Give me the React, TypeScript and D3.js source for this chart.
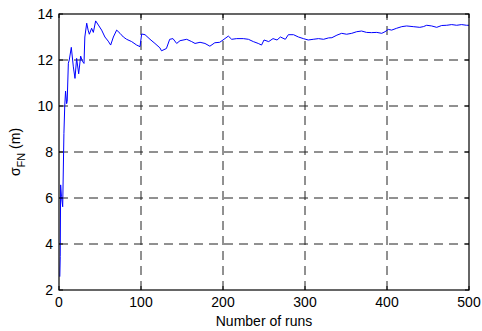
import React from "react";
import * as d3 from "d3";

const runs = [1, 1.5, 2, 3, 4.5, 6, 7, 8, 9.3, 10, 11.4, 12.5, 15, 17.5, 19.5, 21.5, 24, 26.4, 28.5, 30.5, 31.5, 33.8, 35.5, 37, 39.8, 41.9, 44.7, 48, 52, 56, 60, 63, 66.3, 70.3, 74.4, 78.5, 82.5, 88.6, 94.7, 98.8, 100.8, 104.9, 111, 117, 123, 125, 131, 135, 139, 143.5, 147.6, 155.7, 161.8, 165.9, 172, 178, 184, 190, 196, 200, 206.5, 210.6, 216.7, 224.8, 231, 237, 243, 247, 250, 255.7, 261, 265.9, 270, 276, 279.7, 286, 292, 298, 304, 310, 316.5, 322.6, 328.7, 332.8, 338.9, 344.7, 350.8, 357, 363, 369, 375, 381, 387.5, 393.6, 397.6, 401.6, 405.7, 411.8, 418, 424, 432, 440, 444.3, 448.4, 454.5, 460.6, 466.7, 472.8, 478.9, 485, 491, 497, 500];
const sigmaFN = [2.58, 3.45, 6.57, 6.06, 5.62, 8.8, 10.0, 10.65, 10.1, 10.2, 11.86, 12.0, 12.55, 11.7, 11.2, 12.07, 11.4, 12.17, 11.95, 11.85, 13.0, 13.6, 13.3, 13.12, 13.38, 13.2, 13.7, 13.52, 13.3, 13.0, 12.82, 12.65, 13.0, 13.3, 13.16, 13.0, 12.9, 12.8, 12.65, 12.58, 13.13, 13.1, 12.9, 12.72, 12.53, 12.4, 12.5, 12.9, 12.93, 12.72, 12.84, 12.9, 12.8, 12.72, 12.77, 12.72, 12.6, 12.75, 12.77, 12.87, 13.04, 12.9, 12.93, 12.93, 12.9, 12.8, 12.72, 12.65, 12.87, 12.8, 12.93, 12.87, 13.0, 12.9, 13.1, 13.1, 13.0, 12.93, 12.87, 12.9, 12.93, 12.9, 12.96, 12.97, 13.08, 13.16, 13.12, 13.16, 13.23, 13.26, 13.2, 13.19, 13.2, 13.16, 13.23, 13.33, 13.3, 13.38, 13.45, 13.48, 13.45, 13.42, 13.45, 13.51, 13.48, 13.42, 13.5, 13.51, 13.54, 13.51, 13.54, 13.51, 13.51];

const xTicks = [0, 100, 200, 300, 400, 500];
const yTicks = [2, 4, 6, 8, 10, 12, 14];

const W = 482, H = 331;
const L = 59, R = 469, T = 14, B = 290;
const FONT = "'Liberation Sans', Arial, Helvetica, sans-serif";

export default function App() {
  const x = d3.scaleLinear().domain([0, 500]).range([L, R]);
  const y = d3.scaleLinear().domain([2, 14]).range([B, T]);
  const line = d3.line<number>().x((_, i) => x(runs[i])).y((d) => y(d));
  const tick = 4;
  return (
    <svg width={W} height={H} style={{ position: "absolute", left: 0, top: 0, background: "#fff" }} fontFamily={FONT}>
      <rect x={0} y={0} width={W} height={H} fill="#fff" />
      {xTicks.slice(1, -1).map((t) => (
        <line key={"gx" + t} x1={x(t)} x2={x(t)} y1={B} y2={T} stroke="#222" strokeWidth={1} strokeDasharray="9,6" />
      ))}
      {yTicks.slice(1, -1).map((t) => (
        <line key={"gy" + t} x1={L} x2={R} y1={y(t)} y2={y(t)} stroke="#222" strokeWidth={1} strokeDasharray="9,6" />
      ))}
      <path d={line(sigmaFN) || ""} fill="none" stroke="#0000ff" strokeWidth={1} />
      <rect x={L} y={T} width={R - L} height={B - T} fill="none" stroke="#000" strokeWidth={1.2} />
      {xTicks.map((t) => (
        <g key={"tx" + t}>
          <line x1={x(t)} x2={x(t)} y1={B} y2={B - tick} stroke="#000" />
          <line x1={x(t)} x2={x(t)} y1={T} y2={T + tick} stroke="#000" />
          <text x={x(t)} y={307} textAnchor="middle" fontSize={14} fill="#000">{t}</text>
        </g>
      ))}
      {yTicks.map((t) => (
        <g key={"ty" + t}>
          <line x1={L} x2={L + tick} y1={y(t)} y2={y(t)} stroke="#000" />
          <line x1={R} x2={R - tick} y1={y(t)} y2={y(t)} stroke="#000" />
          <text x={53} y={y(t)} dy="0.36em" textAnchor="end" fontSize={14} fill="#000">{t}</text>
        </g>
      ))}
      <text x={(L + R) / 2} y={326} textAnchor="middle" fontSize={14} fill="#000">Number of runs</text>
      <text transform={`translate(20, ${(T + B) / 2}) rotate(-90)`} textAnchor="middle" fontSize={14} fill="#000">
        <tspan>σ</tspan>
        <tspan fontSize={11} dy={5}>FN</tspan>
        <tspan dy={-5}> (m)</tspan>
      </text>
    </svg>
  );
}
